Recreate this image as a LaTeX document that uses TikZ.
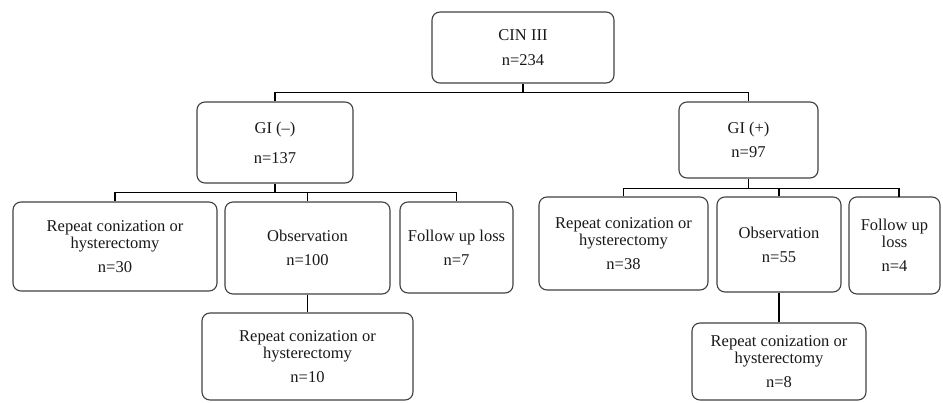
\documentclass[tikz,border=0pt]{standalone}
\usepackage{fontspec}
\setmainfont{Liberation Serif}
\begin{document}
\begin{tikzpicture}[x=1pt,y=-1pt,
  box/.style={draw=black!75, line width=1.1pt, rounded corners=8pt, align=center, inner sep=0pt,
    font=\fontsize{16.5}{17}\selectfont, text=black!90},
  conn/.style={draw=black, line width=1.4pt}]
\useasboundingbox (0,0) rectangle (943,402);
\node[box, minimum width=182pt, minimum height=71pt] (cin) at (523,47.5) {CIN III\\[8pt]n=234};
\node[box, minimum width=156pt, minimum height=81pt] (gim) at (275,142.5) {GI (–)\\[13pt]n=137};
\node[box, minimum width=139pt, minimum height=76pt] (gip) at (748.5,140) {GI (+)\\[7pt]n=97};
\node[box, minimum width=204pt, minimum height=89pt] (l1) at (115,246.5) {Repeat conization or\\hysterectomy\\[7pt]n=30};
\node[box, minimum width=165pt, minimum height=92pt] (l2) at (307.5,248) {Observation\\[7pt]n=100};
\node[box, minimum width=113pt, minimum height=91pt] (l3) at (456.5,247.5) {Follow up loss\\[7pt]n=7};
\node[box, minimum width=211pt, minimum height=87pt] (l4) at (307.5,356.5) {Repeat conization or\\hysterectomy\\[7pt]n=10};
\node[box, minimum width=169pt, minimum height=93pt] (r1) at (623.5,243.5) {Repeat conization or\\hysterectomy\\[7pt]n=38};
\node[box, minimum width=124pt, minimum height=95pt] (r2) at (779,244.5) {Observation\\[7pt]n=55};
\node[box, minimum width=91pt, minimum height=97pt] (r3) at (894.5,245.5) {Follow up\\loss\\[7pt]n=4};
\node[box, minimum width=174pt, minimum height=77pt] (r4) at (779,361.5) {Repeat conization or\\hysterectomy\\[7pt]n=8};
\coordinate (r3top) at (899,197);
% connectors
\draw[conn] (cin.south) -- ++(0,9) coordinate (j0);
\draw[conn] (gim.north) |- (j0) -| (gip.north);
\draw[conn] (gim.south) -- ++(0,9) coordinate (j1);
\draw[conn] (l1.north) |- (j1) -| (l3.north);
\draw[conn] (l2.north) -- (l2.north |- j1);
\draw[conn] (gip.south) -- ++(0,10) coordinate (j2);
\draw[conn] (r1.north) |- (j2) -| (r3top);
\draw[conn] (r2.north) -- (r2.north |- j2);
\draw[conn] (l2.south) -- (l4.north);
\draw[conn] (r2.south) -- (r4.north);
\end{tikzpicture}
\end{document}
